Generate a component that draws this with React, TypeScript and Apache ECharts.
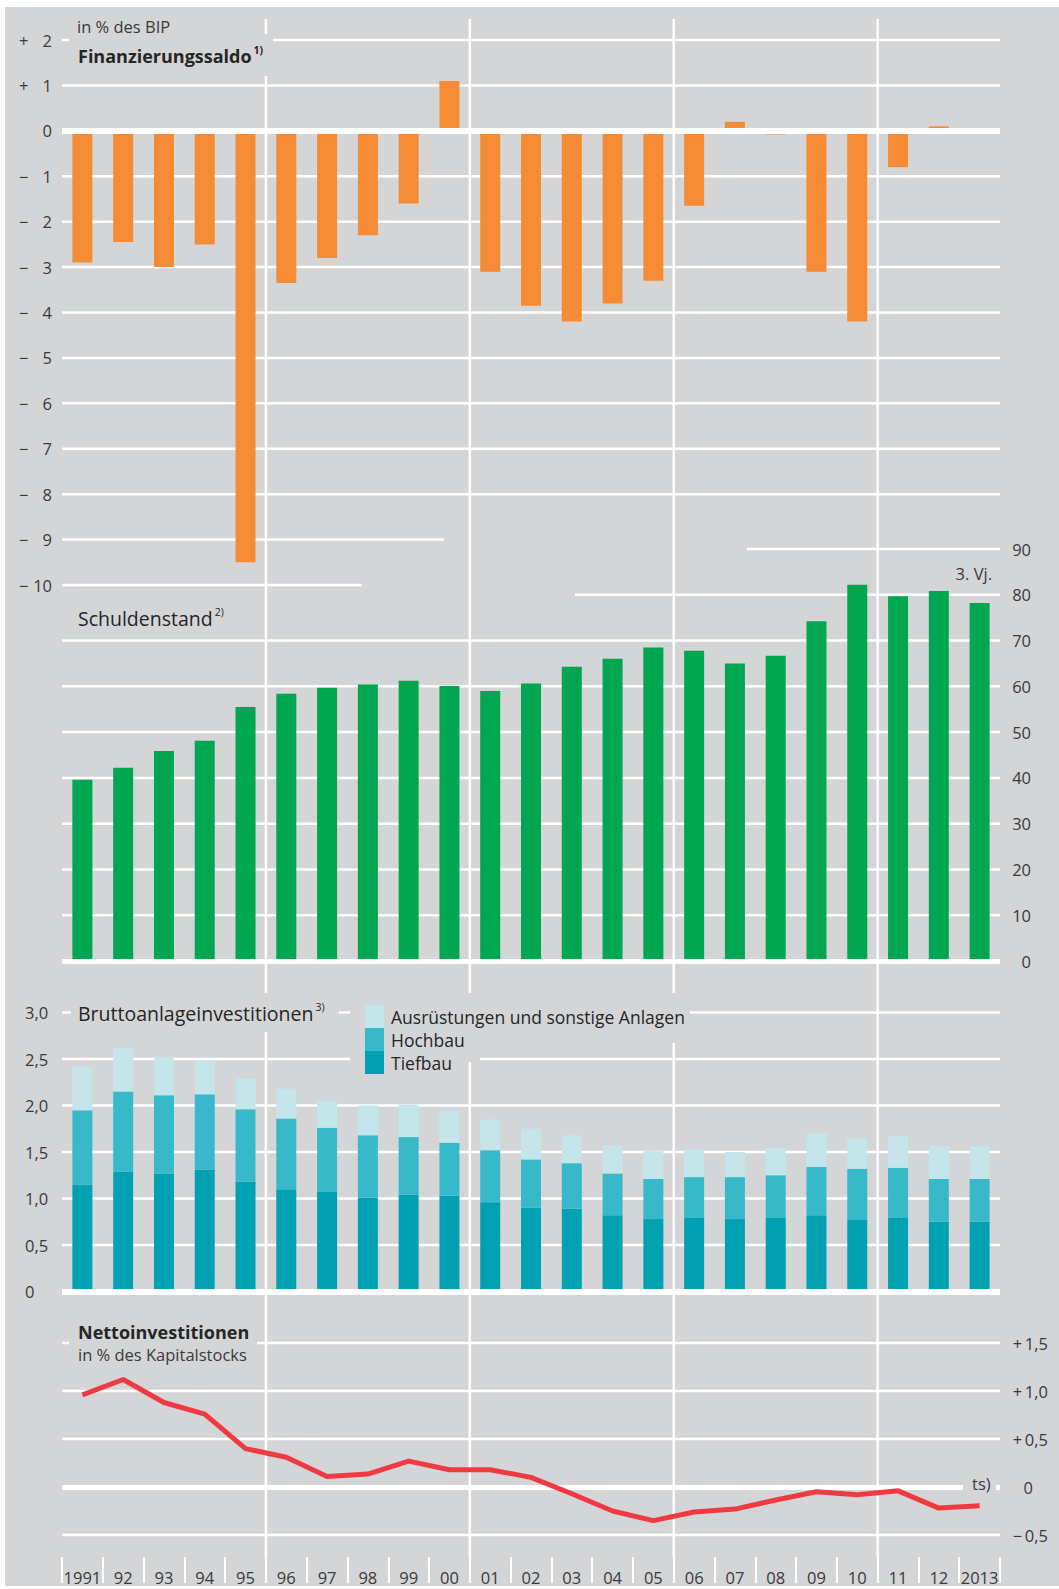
import React, { useEffect, useRef } from 'react';
import * as echarts from 'echarts';

// ---------- data ----------
const years = ['1991', '92', '93', '94', '95', '96', '97', '98', '99', '00', '01', '02', '03', '04', '05', '06', '07', '08', '09', '10', '11', '12', '2013'];

const finanzierungssaldo = [-2.9, -2.45, -3.0, -2.5, -9.5, -3.35, -2.8, -2.3, -1.6, 1.1, -3.1, -3.85, -4.2, -3.8, -3.3, -1.65, 0.2, -0.08, -3.1, -4.2, -0.8, 0.1, 0.0];
const schuldenstand = [39.6, 42.2, 45.9, 48.1, 55.5, 58.4, 59.7, 60.4, 61.2, 60.1, 59.0, 60.6, 64.3, 66.0, 68.5, 67.8, 65.0, 66.7, 74.2, 82.2, 79.7, 80.8, 78.2];
const tiefbau = [1.15, 1.29, 1.27, 1.31, 1.18, 1.10, 1.07, 1.01, 1.04, 1.03, 0.96, 0.90, 0.89, 0.82, 0.78, 0.79, 0.78, 0.79, 0.82, 0.77, 0.79, 0.75, 0.75];
const hochbau = [0.80, 0.86, 0.84, 0.81, 0.78, 0.76, 0.69, 0.67, 0.62, 0.57, 0.56, 0.52, 0.49, 0.45, 0.43, 0.44, 0.45, 0.46, 0.52, 0.55, 0.54, 0.46, 0.46];
const ausruestungen = [0.46, 0.47, 0.41, 0.36, 0.33, 0.32, 0.29, 0.32, 0.35, 0.34, 0.33, 0.33, 0.30, 0.30, 0.30, 0.30, 0.27, 0.29, 0.36, 0.33, 0.34, 0.35, 0.35];
const nettoinvestitionen = [0.96, 1.12, 0.88, 0.76, 0.40, 0.31, 0.11, 0.135, 0.27, 0.18, 0.18, 0.10, -0.07, -0.25, -0.35, -0.26, -0.23, -0.135, -0.05, -0.08, -0.04, -0.22, -0.195];

const finTicks = [2, 1, 0, -1, -2, -3, -4, -5, -6, -7, -8, -9, -10];
const schuldTicks = [90, 80, 70, 60, 50, 40, 30, 20, 10, 0];
const bruttoTicks = [3, 2.5, 2, 1.5, 1, 0.5, 0];
const nettoTicks = [1.5, 1, 0.5, 0, -0.5];
// vertical separators after these years
const separatorsAfter = ['95', '00', '05', '10'];

const seriesNames = ['Ausrüstungen und sonstige Anlagen', 'Hochbau', 'Tiefbau'];

// ---------- style ----------
const W = 1059;
const H = 1589;
const L = 62;
const R = 59;
const GRAY = '#d4d5d7';
const TXT = '#3a3a3a';
const TITLE = '#262626';
const FONT = '"Open Sans", "Noto Sans", sans-serif';
const ORANGE = '#f58b34';
const GREEN = '#00a650';
const T1 = '#00a1b2';
const T2 = '#38b9c9';
const T3 = '#c4e6eb';
const RED = '#ef3a42';

const lbl = { color: TXT, fontSize: 16, fontFamily: FONT };

const zeroLine = (w: number) => ({
  silent: true,
  symbol: 'none',
  label: { show: false },
  emphasis: { disabled: true },
  lineStyle: { color: '#fff', width: w, type: 'solid' },
  data: [{ yAxis: 0 }],
});

const comma = (v: number) => v.toFixed(1).replace('.', ',');

export default function App() {
  const ref = useRef<HTMLDivElement>(null);

  useEffect(() => {
    if (!ref.current) return;
    const chart = echarts.init(ref.current, null, { renderer: 'svg' });
    const hidden = (g: number) => ({ type: 'category', data: years, gridIndex: g, show: false, boundaryGap: true });

    chart.setOption({
      animation: false,
      backgroundColor: 'transparent',
      textStyle: { fontFamily: FONT },
      legend: {
        orient: 'vertical',
        left: 365,
        top: 1005,
        padding: 0,
        itemWidth: 19,
        itemHeight: 23,
        itemGap: 0,
        icon: 'rect',
        selectedMode: false,
        z: 8,
        textStyle: { ...lbl, fontSize: 17.5, color: TITLE, padding: [0, 0, 0, 2] },
        data: seriesNames,
      },
      grid: [
        { left: L, right: R, top: 19, bottom: H - 1557 },
        { left: L, right: R, top: 40, height: 545 },
        { left: L, right: R, top: 549, height: 412 },
        { left: L, right: R, top: 1012.5, height: 279 },
        { left: L, right: R, top: 1343, height: 192 },
      ],
      xAxis: [
        {
          type: 'category',
          data: years,
          gridIndex: 0,
          boundaryGap: true,
          position: 'bottom',
          axisLine: { show: false },
          axisTick: { show: true, interval: 0, length: 26, lineStyle: { color: '#fff', width: 2 } },
          axisLabel: { ...lbl, fontSize: 16.5, interval: 0, margin: 12 },
          splitLine: { show: false },
        },
        hidden(1),
        hidden(2),
        hidden(3),
        hidden(4),
      ],
      yAxis: [
        { type: 'value', gridIndex: 0, show: false },
        {
          type: 'value', gridIndex: 1, min: -10, max: 2, interval: 1, position: 'left',
          axisLine: { show: false }, axisTick: { show: false }, splitLine: { show: false },
          axisLabel: {
            align: 'left', margin: 43,
            formatter: (v: number) => `{s|${v > 0 ? '+' : v < 0 ? '−' : ''}}{d|${Math.abs(v)}}`,
            rich: {
              s: { ...lbl, fontSize: 16.5, width: 12, align: 'left' },
              d: { ...lbl, fontSize: 16.5, width: 21, align: 'right' },
            },
          },
        },
        {
          type: 'value', gridIndex: 2, min: 0, max: 90, interval: 10, position: 'right',
          axisLine: { show: false }, axisTick: { show: false }, splitLine: { show: false },
          axisLabel: { ...lbl, fontSize: 16.5, align: 'right', margin: 31 },
        },
        {
          type: 'value', gridIndex: 3, min: 0, max: 3, interval: 0.5, position: 'left',
          axisLine: { show: false }, axisTick: { show: false }, splitLine: { show: false },
          axisLabel: { ...lbl, fontSize: 16.5, align: 'left', margin: 37, formatter: (v: number) => (v === 0 ? '0' : comma(v)) },
        },
        {
          type: 'value', gridIndex: 4, min: -0.5, max: 1.5, interval: 0.5, position: 'right',
          axisLine: { show: false }, axisTick: { show: false }, splitLine: { show: false },
          axisLabel: {
            ...lbl, fontSize: 16.5, align: 'right', margin: 48,
            formatter: (v: number) => (v === 0 ? '{z|0}' : `${v > 0 ? '+' : '−'}\u2009${comma(Math.abs(v))}`),
            rich: { z: { ...lbl, fontSize: 16.5, padding: [0, 15, 0, 0] } },
          },
        },
      ],
      series: [
        {
          type: 'bar', name: 'Finanzierungssaldo', xAxisIndex: 1, yAxisIndex: 1, data: finanzierungssaldo,
          barWidth: 20, itemStyle: { color: ORANGE }, markLine: zeroLine(6),
        },
        {
          type: 'bar', name: 'Schuldenstand', xAxisIndex: 2, yAxisIndex: 2, data: schuldenstand,
          barWidth: 20, itemStyle: { color: GREEN }, markLine: zeroLine(5),
        },
        {
          type: 'bar', name: seriesNames[2], xAxisIndex: 3, yAxisIndex: 3, data: tiefbau, stack: 'b',
          barWidth: 20, itemStyle: { color: T1 }, markLine: zeroLine(6),
        },
        {
          type: 'bar', name: seriesNames[1], xAxisIndex: 3, yAxisIndex: 3, data: hochbau, stack: 'b',
          barWidth: 20, itemStyle: { color: T2 },
        },
        {
          type: 'bar', name: seriesNames[0], xAxisIndex: 3, yAxisIndex: 3, data: ausruestungen, stack: 'b',
          barWidth: 20, itemStyle: { color: T3 },
        },
        {
          type: 'line', name: 'Nettoinvestitionen', xAxisIndex: 4, yAxisIndex: 4, data: nettoinvestitionen,
          z: 10, showSymbol: false, symbol: 'none', lineStyle: { color: RED, width: 5 }, itemStyle: { color: RED },
          markLine: zeroLine(5),
        },
      ],
    });

    const yPix = (axis: number, v: number) => chart.convertToPixel({ yAxisIndex: axis }, v) as number;
    const xPix = (cat: string) => chart.convertToPixel({ xAxisIndex: 0 }, cat) as number;
    const hLine = (axis: number, v: number, x1 = L, x2 = W - R) => {
      const y = yPix(axis, v);
      return { type: 'line', z: 1, silent: true, shape: { x1, y1: y, x2, y2: y }, style: { stroke: '#fff', lineWidth: 2.5 } };
    };
    const lines: any[] = [];
    finTicks.forEach((v) => {
      if (v === 0) return;
      if (v === -9) lines.push(hLine(1, v, L, 444));
      else if (v === -10) lines.push(hLine(1, v, L, 362));
      else lines.push(hLine(1, v));
    });
    schuldTicks.forEach((v) => {
      if (v === 0) return;
      if (v === 90) lines.push(hLine(2, v, 747));
      else if (v === 80) lines.push(hLine(2, v, 575));
      else lines.push(hLine(2, v));
    });
    bruttoTicks.forEach((v) => { if (v !== 0) lines.push(hLine(3, v)); });
    nettoTicks.forEach((v) => { if (v !== 0) lines.push(hLine(4, v)); });
    separatorsAfter.forEach((c) => {
      const i = years.indexOf(c);
      const x = (xPix(years[i]) + xPix(years[i + 1])) / 2;
      lines.push({ type: 'line', z: 1, silent: true, shape: { x1: x, y1: 19, x2: x, y2: 1557 }, style: { stroke: '#fff', lineWidth: 2.5 } });
    });

    const cover = (x: number, y: number, width: number, height: number) => ({
      type: 'rect', z: 6, silent: true, shape: { x, y, width, height }, style: { fill: GRAY },
    });
    const text = (x: number, y: number, t: string, extra: any = {}) => ({
      type: 'text', z: 7, silent: true, x, y,
      style: { text: t, fill: TXT, fontSize: 16.5, fontFamily: FONT, align: 'left', verticalAlign: 'middle', ...extra },
    });
    const titleRich = (size: number, weight: string) => ({
      t: { fontSize: size, fontWeight: weight, fontFamily: FONT, fill: TITLE, color: TITLE, lineHeight: 24 },
      s: { fontSize: 10.5, fontWeight: weight, fontFamily: FONT, fill: TITLE, color: TITLE, verticalAlign: 'top', lineHeight: 14, padding: [0, 0, 0, 2] },
    });

    chart.setOption({
      graphic: [
        ...lines,
        cover(69, 34, 204, 42),
        cover(71, 993, 268, 39),
        cover(350, 993, 340, 50),
        cover(350, 993, 130, 69),
        cover(69, 1318, 188, 48),
        cover(963, 1476, 33, 18),
        text(77, 26, 'in % des BIP'),
        text(78, 56, '{t|Finanzierungssaldo}{s|1)}', { rich: titleRich(18, 'bold') }),
        text(78, 618, '{t|Schuldenstand}{s|2)}', { rich: titleRich(19.5, 'normal') }),
        text(78, 1013, '{t|Bruttoanlageinvestitionen}{s|3)}', { rich: titleRich(19.5, 'normal') }),
        text(78, 1332, 'Nettoinvestitionen', { fontSize: 18, fontWeight: 'bold', fill: TITLE }),
        text(78, 1354, 'in % des Kapitalstocks'),
        text(992, 573, '3. Vj.', { align: 'right' }),
        text(972, 1483, 'ts)'),
      ],
    });

    return () => chart.dispose();
  }, []);

  return (
    <div style={{ position: 'absolute', left: 0, top: 0, width: W, height: H, background: '#fff' }}>
      <div style={{ position: 'absolute', left: 5, top: 7, right: 0, bottom: 3, background: GRAY }} />
      <div ref={ref} style={{ position: 'absolute', left: 0, top: 0, width: W, height: H }} />
    </div>
  );
}
